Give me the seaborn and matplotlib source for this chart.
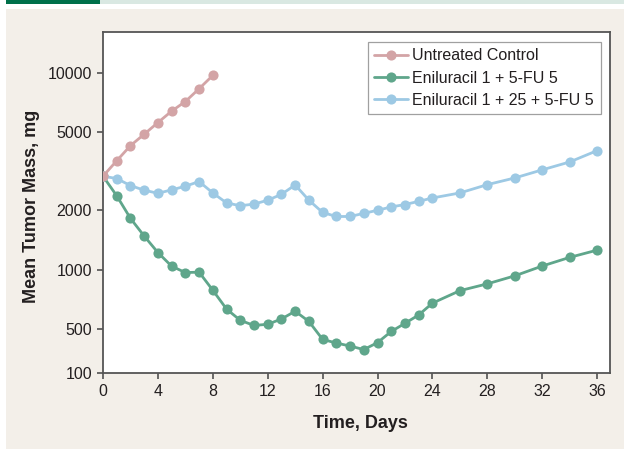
import numpy as np
import pandas as pd
import matplotlib
matplotlib.use('Agg')
import matplotlib.pyplot as plt
import seaborn as sns
from matplotlib.patches import Rectangle

# values
control_days = [0, 1, 2, 3, 4, 5, 6, 7, 8]
control_mass = [2980, 3570, 4260, 4870, 5580, 6380, 7140, 8290, 9690]

treat_days = list(range(0, 25)) + [26, 28, 30, 32, 34, 36]
eni_5fu_mass = [2980, 2370, 1820, 1480, 1220, 1040, 965, 970, 785, 630, 552, 520, 527,
                561, 614, 545, 404, 371, 344, 312, 375, 476, 533, 588, 675,
                781, 846, 929, 1042, 1153, 1255]
eni_25_mass = [2980, 2900, 2670, 2530, 2440, 2540, 2650, 2800, 2450, 2180, 2110, 2150, 2250,
               2410, 2690, 2250, 1950, 1860, 1860, 1930, 2000, 2080, 2140, 2220, 2310,
               2450, 2700, 2920, 3210, 3520, 4020]

series_names = ['Untreated Control', 'Eniluracil 1 + 5-FU 5', 'Eniluracil 1 + 25 + 5-FU 5']
colors = ['#D3A4A6', '#5FA68B', '#9DC9E4']
y_ticks = [100, 500, 1000, 2000, 5000, 10000]
x_ticks = list(range(0, 37, 4))

df = pd.concat([
    pd.DataFrame({'day': control_days, 'mass': control_mass, 'group': series_names[0]}),
    pd.DataFrame({'day': treat_days, 'mass': eni_5fu_mass, 'group': series_names[1]}),
    pd.DataFrame({'day': treat_days, 'mass': eni_25_mass, 'group': series_names[2]}),
])

# log axis above 500, compressed linear stretch between 100 and 500 (axis break)
BREAK = 500.0
SPAN = 0.2246


def fwd(v):
    v = np.asarray(v, dtype=float)
    lg = np.log10(np.clip(v, 1e-9, None))
    return np.where(v >= BREAK, lg, np.log10(BREAK) - (BREAK - v) / 400.0 * SPAN)


def inv(p):
    p = np.asarray(p, dtype=float)
    return np.where(p >= np.log10(BREAK), 10 ** p, BREAK - (np.log10(BREAK) - p) / SPAN * 400.0)


sns.set_style('white')
plt.rcParams['font.family'] = ['Liberation Sans', 'DejaVu Sans']

fig = plt.figure(figsize=(6.24, 4.49), dpi=100)
fig.patch.set_facecolor('white')
W, H = 624, 449
fig.patches.append(Rectangle((6 / W, 0), 1 - 6 / W, (H - 9) / H, transform=fig.transFigure,
                             facecolor='#F3EFE9', edgecolor='none', zorder=-10))
fig.patches.append(Rectangle((6 / W, 1 - 4 / H), (100 - 6) / W, 4 / H, transform=fig.transFigure,
                             facecolor='#00704A', edgecolor='none', zorder=-9))
fig.patches.append(Rectangle((100 / W, 1 - 4 / H), 1 - 100 / W, 4 / H, transform=fig.transFigure,
                             facecolor='#D9E8E2', edgecolor='none', zorder=-9))

ax = fig.add_axes([103 / W, 1 - 373 / H, 506.5 / W, 341 / H])
ax.set_facecolor('white')

draw_order = [1, 2, 0]
for i in draw_order:
    name = series_names[i]
    sns.lineplot(data=df[df['group'] == name], x='day', y='mass', ax=ax, color=colors[i],
                 marker='o', markersize=7.3, markeredgewidth=0, linewidth=2.0,
                 label=name, zorder=3 + (i == 0))

ax.set_yscale('function', functions=(fwd, inv))
ax.set_ylim(100, 16100)
ax.set_xlim(0, 36.9)
ax.set_yticks(y_ticks, [str(t) for t in y_ticks])
ax.yaxis.set_minor_locator(matplotlib.ticker.NullLocator())
ax.set_xticks(x_ticks, [str(t) for t in x_ticks])

for sp in ax.spines.values():
    sp.set_visible(True)
    sp.set_color('#555555')
    sp.set_linewidth(1.3)
ax.tick_params(axis='both', which='major', length=4.5, width=1.1, color='#444444',
               labelsize=11.5, labelcolor='#231F20', pad=3.5, direction='out',
               bottom=True, left=True)

ax.set_xlabel('Time, Days', fontsize=13, fontweight='bold', color='#231F20')
ax.set_ylabel('Mean Tumor Mass, mg', fontsize=13, fontweight='bold', color='#231F20')
ax.xaxis.label.set_va('center')
ax.yaxis.label.set_va('center')
ax.xaxis.set_label_coords((360 - 103) / 506.5, -(423 - 373) / 341)
ax.yaxis.set_label_coords(-(103 - 32) / 506.5, 0.49)

handles, labels = ax.get_legend_handles_labels()
lookup = dict(zip(labels, handles))
leg = ax.legend([lookup[n] for n in series_names], series_names, loc='upper right',
                bbox_to_anchor=(1 - 9 / 506.5, 1 - 10 / 341), borderaxespad=0,
                fontsize=11.5, frameon=True, fancybox=False, framealpha=1,
                edgecolor='#A0A0A0', handlelength=2.1, handletextpad=0.3,
                labelspacing=0.45, borderpad=0.4)
leg.get_frame().set_linewidth(0.9)
for t in leg.get_texts():
    t.set_color('#231F20')

fig.savefig('out.png', dpi=100)
